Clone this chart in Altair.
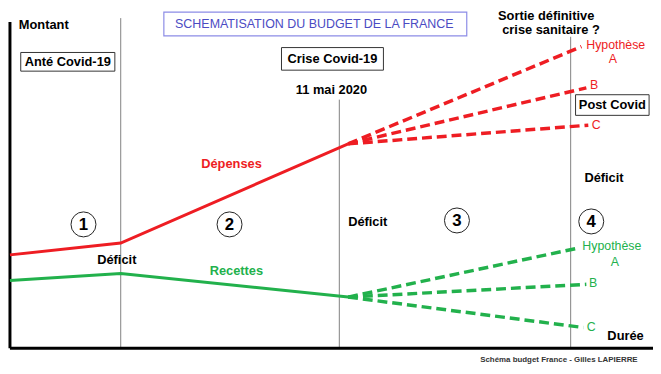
import altair as alt
import pandas as pd

# ---- data (durée t, montant m) read from the schematic ----
depenses_t = [0, 113, 345]
depenses_m = [95, 107, 208]
recettes_t = [0, 113, 345]
recettes_m = [69, 76, 52]

hypotheses = ["A", "B", "C"]
dep_hyp_end_t = [583, 588, 590]
dep_hyp_end_m = [307, 265, 227]
rec_hyp_end_t = [580, 588, 585]
rec_hyp_end_m = [102, 65, 21]

phase_t = [113, 336, 572]
phase_top = [336, 253, 317]

circle_labels = ["1", "2", "3", "4"]
circle_t = [75, 224, 456, 593]
circle_m = [126, 126, 130, 129]

deficit_t = [109, 365, 606]
deficit_m = [90, 128, 173]

box_labels = ["Anté Covid-19", "Crise Covid-19", "Post Covid"]
box_t1 = [11, 277, 577]
box_t2 = [107, 381, 652]
box_m1 = [301, 306, 258]
box_m2 = [282, 283, 237]

black_labels = ["11 mai 2020", "Sortie définitive", "crise sanitaire ?", "Durée"]
black_t = [328, 547, 552, 628]
black_m = [263, 338, 324, 12]

dep_hyp_labels = ["Hypothèse", "A", "B", "C"]
dep_hyp_lab_t = [618, 615, 596, 598]
dep_hyp_lab_m = [309, 294, 268, 227]
rec_hyp_labels = ["Hypothèse", "A", "B", "C"]
rec_hyp_lab_t = [614, 617, 595, 593]
rec_hyp_lab_m = [104, 88, 66, 22]

title_text = "SCHEMATISATION DU BUDGET DE LA FRANCE"
title_box = [157, 466, 342, 318]
credit_text = "Schéma budget France - Gilles LAPIERRE"

RED = "#ee1d23"
GREEN = "#22b14c"
FONT = "Liberation Sans"

X = lambda f="t": alt.X(f"{f}:Q", scale=alt.Scale(domain=[-2, 656], nice=False, zero=False), axis=None)
Y = lambda f="m": alt.Y(f"{f}:Q", scale=alt.Scale(domain=[-24, 344], nice=False, zero=False), axis=None)

solid = pd.DataFrame({
    "t": depenses_t + recettes_t,
    "m": depenses_m + recettes_m,
    "serie": ["Dépenses"] * 3 + ["Recettes"] * 3,
})
dashed_rows = []
for h, et, em in zip(hypotheses, dep_hyp_end_t, dep_hyp_end_m):
    dashed_rows += [dict(t=depenses_t[-1], m=depenses_m[-1], serie="Dépenses", hyp="D" + h, o=0),
                    dict(t=et, m=em, serie="Dépenses", hyp="D" + h, o=1)]
for h, et, em in zip(hypotheses, rec_hyp_end_t, rec_hyp_end_m):
    dashed_rows += [dict(t=recettes_t[-1], m=recettes_m[-1], serie="Recettes", hyp="R" + h, o=0),
                    dict(t=et, m=em, serie="Recettes", hyp="R" + h, o=1)]
dashed = pd.DataFrame(dashed_rows)

col = alt.Color("serie:N", scale=alt.Scale(domain=["Dépenses", "Recettes"], range=[RED, GREEN]), legend=None)

# vertical phase lines
phases = pd.DataFrame({"t": phase_t, "top": phase_top, "bot": [0] * 3})
phase_rules = alt.Chart(phases).mark_rule(color="#808080", strokeWidth=1).encode(
    x=X(), y=Y("top"), y2="bot:Q")

# axes (thick black)
axes_df = pd.DataFrame({"t": [0], "t2": [656], "top": [332], "zero": [0]})
left_axis = alt.Chart(axes_df).mark_rule(color="black", strokeWidth=3).encode(
    x=X(), y=Y("top"), y2="zero:Q")
bottom_axis = alt.Chart(axes_df).mark_rule(color="black", strokeWidth=3).encode(
    x=X("zero"), x2="t2:Q", y=Y("zero"))

solid_lines = alt.Chart(solid).mark_line(strokeWidth=3).encode(
    x=X(), y=Y(), color=col, detail="serie:N")
dashed_lines = alt.Chart(dashed).mark_line(strokeWidth=3.5, strokeDash=[10, 5]).encode(
    x=X(), y=Y(), color=col, detail="hyp:N", order="o:Q")

# boxes
boxes = pd.DataFrame({"label": box_labels, "t1": box_t1, "t2": box_t2, "m1": box_m1, "m2": box_m2})
boxes["tc"] = (boxes.t1 + boxes.t2) / 2
boxes["mc"] = (boxes.m1 + boxes.m2) / 2
box_rects = alt.Chart(boxes).mark_rect(fill="white", stroke="#333333", strokeWidth=1).encode(
    x=X("t1"), x2="t2:Q", y=Y("m1"), y2="m2:Q")
box_text = alt.Chart(boxes).mark_text(font=FONT, fontSize=13, fontWeight="bold", color="black",
                                      align="center", baseline="middle").encode(
    x=X("tc"), y=Y("mc"), text="label:N")

tb = pd.DataFrame({"t1": [title_box[0]], "t2": [title_box[1]], "m1": [title_box[2]], "m2": [title_box[3]],
                   "label": [title_text]})
tb["tc"] = (tb.t1 + tb.t2) / 2 - 1
tb["mc"] = (tb.m1 + tb.m2) / 2
title_rect = alt.Chart(tb).mark_rect(fill="white", stroke="#8c8ce6", strokeWidth=1.2).encode(
    x=X("t1"), x2="t2:Q", y=Y("m1"), y2="m2:Q")
title_txt = alt.Chart(tb).mark_text(font=FONT, fontSize=12.6, color="#4b4bc3",
                                    align="center", baseline="middle").encode(
    x=X("tc"), y=Y("mc"), text="label:N")

# circles with phase numbers
circ = pd.DataFrame({"label": circle_labels, "t": circle_t, "m": circle_m})
circles = alt.Chart(circ).mark_point(shape="circle", size=640, filled=False, color="#222222",
                                     strokeWidth=1, opacity=1).encode(x=X(), y=Y())
circle_txt = alt.Chart(circ).mark_text(font=FONT, fontSize=17, fontWeight="bold", color="black",
                                       align="center", baseline="middle", dy=1).encode(
    x=X(), y=Y(), text="label:N")

deficit = pd.DataFrame({"label": ["Déficit"] * 3, "t": deficit_t, "m": deficit_m})
deficit_txt = alt.Chart(deficit).mark_text(font=FONT, fontSize=13, fontWeight="bold", color="black",
                                           align="center", baseline="middle").encode(
    x=X(), y=Y(), text="label:N")

blk = pd.DataFrame({"label": black_labels, "t": black_t, "m": black_m})
blk_txt = alt.Chart(blk).mark_text(font=FONT, fontSize=13, fontWeight="bold", color="black",
                                   align="center", baseline="middle").encode(
    x=X(), y=Y(), text="label:N")

montant = pd.DataFrame({"label": ["Montant"], "t": [9], "m": [329]})
montant_txt = alt.Chart(montant).mark_text(font=FONT, fontSize=13, fontWeight="bold", color="black",
                                           align="left", baseline="middle").encode(
    x=X(), y=Y(), text="label:N")

series_lab = pd.DataFrame({"label": ["Dépenses", "Recettes"], "t": [226, 231], "m": [187, 79]})
series_txt = alt.Chart(series_lab).mark_text(font=FONT, fontSize=13, fontWeight="bold",
                                             align="center", baseline="middle").encode(
    x=X(), y=Y(), text="label:N",
    color=alt.Color("label:N", scale=alt.Scale(domain=["Dépenses", "Recettes"], range=[RED, GREEN]), legend=None))

dhl = pd.DataFrame({"label": dep_hyp_labels, "t": dep_hyp_lab_t, "m": dep_hyp_lab_m})
dhl_txt = alt.Chart(dhl).mark_text(font=FONT, fontSize=12.5, color=RED, align="center",
                                   baseline="middle").encode(x=X(), y=Y(), text="label:N")
rhl = pd.DataFrame({"label": rec_hyp_labels, "t": rec_hyp_lab_t, "m": rec_hyp_lab_m})
rhl_txt = alt.Chart(rhl).mark_text(font=FONT, fontSize=12.5, color=GREEN, align="center",
                                   baseline="middle").encode(x=X(), y=Y(), text="label:N")

credit = pd.DataFrame({"label": [credit_text], "t": [560], "m": [-12]})
credit_txt = alt.Chart(credit).mark_text(font=FONT, fontSize=8, fontWeight="bold", color="#333333",
                                         align="center", baseline="middle").encode(
    x=X(), y=Y(), text="label:N")

chart = alt.layer(
    phase_rules, left_axis, bottom_axis,
    solid_lines, dashed_lines,
    box_rects, box_text, title_rect, title_txt,
    circles, circle_txt, deficit_txt, blk_txt, montant_txt, series_txt,
    dhl_txt, rhl_txt, credit_txt,
).properties(
    width=653, height=366, padding=0, autosize=alt.AutoSizeParams(type="none"),
    background="white",
).configure_view(stroke=None)

chart.save("out.html", embed_options={"renderer": "svg", "actions": False})
